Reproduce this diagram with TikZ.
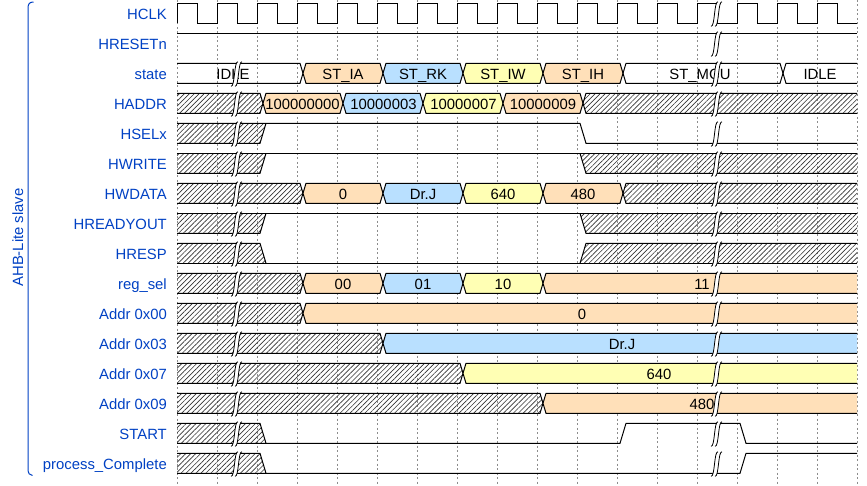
\documentclass[tikz,border=0pt]{standalone}
\usepackage{fontspec}
\setmainfont{Liberation Sans}
\usetikzlibrary{patterns.meta}
\definecolor{wdor}{HTML}{FFE0B9}
\definecolor{wdbl}{HTML}{B9E0FF}
\definecolor{wdye}{HTML}{FFFFB4}
\definecolor{wdlab}{HTML}{0041C4}
\newcommand\wdfont{\fontsize{14.85bp}{17bp}\selectfont}
\tikzset{
 wl/.style={line width=1bp, draw=black},
 xpat/.style={pattern={Lines[angle=45,distance=3.5bp,line width=0.65bp]}, pattern color=black!80},
 gridl/.style={draw=black!45, line width=0.6bp, dash pattern=on 2bp off 2.5bp},
 gapl/.style={line width=0.8bp, draw=black},
 lab/.style={anchor=base east, inner sep=0, text=wdlab, font=\wdfont},
 dtx/.style={anchor=base, inner sep=0, font=\wdfont},
}
% data box with crossings on both sides
\newcommand\wdB[3]{\path[wl,fill=#3] ({#1+6},10) -- ({#1+9},0) -- ({#2+3},0) -- ({#2+6},10) -- ({#2+3},20) -- ({#1+9},20) -- cycle;}
% data box starting at the left edge
\newcommand\wdS[3]{\path[fill=#3] (#1,0) -- ({#2+3},0) -- ({#2+6},10) -- ({#2+3},20) -- (#1,20) -- cycle;
 \draw[wl] (#1,0) -- ({#2+3},0) -- ({#2+6},10) -- ({#2+3},20) -- (#1,20);}
% data box ending at the right edge
\newcommand\wdE[3]{\path[fill=#3] ({#1+6},10) -- ({#1+9},0) -- (#2,0) -- (#2,20) -- ({#1+9},20) -- cycle;
 \draw[wl] (#2,0) -- ({#1+9},0) -- ({#1+6},10) -- ({#1+9},20) -- (#2,20);}
% undefined region from the left edge up to a data crossing
\newcommand\wdXS[1]{\path[xpat] (177,0) -- ({#1+3},0) -- ({#1+6},10) -- ({#1+3},20) -- (177,20) -- cycle;
 \draw[wl] (177,0) -- ({#1+3},0) -- ({#1+6},10) -- ({#1+3},20) -- (177,20);}
% undefined region from a data crossing to the right edge
\newcommand\wdXE[1]{\path[xpat] ({#1+6},10) -- ({#1+9},0) -- (857,0) -- (857,20) -- ({#1+9},20) -- cycle;
 \draw[wl] (857,0) -- ({#1+9},0) -- ({#1+6},10) -- ({#1+9},20) -- (857,20);}
% gap mark
\newcommand\wdGap[1]{\fill[white] ({#1-6},23) .. controls ({#1-2},24) and ({#1-3},-2.5) .. ({#1+1},-1.5) -- ({#1+5},-1.5) .. controls ({#1+1},-2.5) and ({#1+2},24) .. ({#1-2},23) -- cycle;
 \draw[gapl] ({#1-6},23) .. controls ({#1-2},24) and ({#1-3},-2.5) .. ({#1+1},-1.5);
 \draw[gapl] ({#1-2},23) .. controls ({#1+2},24) and ({#1+1},-2.5) .. ({#1+5},-1.5);}
\begin{document}
\begin{tikzpicture}[x=1bp,y=-1bp]
\fill[white] (0,0) rectangle (867,486);
\useasboundingbox (0,0) rectangle (867,486);
\foreach \k in {0,...,17} \draw[gridl] ({177+40*\k},0) -- ({177+40*\k},484);
% group bracket
\draw[wdlab, line width=1bp] (33.5,2) .. controls (29.5,2) and (28,4) .. (28,8) -- (28,469) .. controls (28,473) and (29.5,475.5) .. (32.5,475.5);
\node[rotate=90, anchor=base, inner sep=0, text=wdlab, font=\wdfont] (grp) at (23,237.5) {AHB-Lite slave};
% lane 0 HCLK
\begin{scope}[shift={(0,3.3)}]
\node[lab] (l0) at (167,15.8) {HCLK};
\draw[wl] (177,20) \foreach \k in {0,...,16} { -- ({177+40*\k},0) -- ({197+40*\k},0) -- ({197+40*\k},20) -- ({217+40*\k},20) };
\wdGap{717}
\end{scope}
% lane 1 HRESETn
\begin{scope}[shift={(0,33.3)}]
\node[lab] (l1) at (167,15.8) {HRESETn};
\draw[wl] (177,0) -- (857,0);
\wdGap{717}
\end{scope}
% lane 2 state
\begin{scope}[shift={(0,63.3)}]
\node[lab] (l2) at (167,15.8) {state};
\wdS{177}{297}{none}
\wdB{297}{377}{wdor}
\wdB{377}{457}{wdbl}
\wdB{457}{537}{wdye}
\wdB{537}{617}{wdor}
\wdB{617}{777}{none}
\wdE{777}{857}{none}
\node[dtx] (s1) at (233,15.8) {IDLE};
\node[dtx] (s2) at (343,15.8) {ST\_IA};
\node[dtx] (s3) at (423,15.8) {ST\_RK};
\node[dtx] (s4) at (503,15.8) {ST\_IW};
\node[dtx] (s5) at (583,15.8) {ST\_IH};
\node[dtx] (s6) at (700,15.8) {ST\_MCU};
\node[dtx] (s7) at (820,15.8) {IDLE};
\wdGap{237}\wdGap{717}
\end{scope}
% lane 3 HADDR
\begin{scope}[shift={(0,93.3)}]
\node[lab] (l3) at (167,15.8) {HADDR};
\wdXS{257}
\wdB{257}{337}{wdor}
\wdB{337}{417}{wdbl}
\wdB{417}{497}{wdye}
\wdB{497}{577}{wdor}
\wdXE{577}
\node[dtx] (a1) at (302.5,15.8) {100000000};
\node[dtx] (a2) at (383.5,15.8) {10000003};
\node[dtx] (a3) at (463.5,15.8) {10000007};
\node[dtx] (a4) at (543,15.8) {10000009};
\wdGap{237}\wdGap{717}
\end{scope}
% lane 4 HSELx
\begin{scope}[shift={(0,123.3)}]
\node[lab] (l4) at (167,15.8) {HSELx};
\path[xpat] (177,0) -- (266,0) -- (260,20) -- (177,20) -- cycle;
\draw[wl] (177,0) -- (580,0) -- (586,20) -- (857,20);
\draw[wl] (177,20) -- (260,20) -- (266,0);
\wdGap{237}\wdGap{717}
\end{scope}
% lane 5 HWRITE
\begin{scope}[shift={(0,153.3)}]
\node[lab] (l5) at (167,15.8) {HWRITE};
\path[xpat] (177,0) -- (266,0) -- (260,20) -- (177,20) -- cycle;
\path[xpat] (580,0) -- (857,0) -- (857,20) -- (586,20) -- cycle;
\draw[wl] (177,0) -- (857,0);
\draw[wl] (177,20) -- (260,20) -- (266,0);
\draw[wl] (580,0) -- (586,20) -- (857,20);
\wdGap{237}\wdGap{717}
\end{scope}
% lane 6 HWDATA
\begin{scope}[shift={(0,183.3)}]
\node[lab] (l6) at (167,15.8) {HWDATA};
\wdXS{297}
\wdB{297}{377}{wdor}
\wdB{377}{457}{wdbl}
\wdB{457}{537}{wdye}
\wdB{537}{617}{wdor}
\wdXE{617}
\node[dtx] (d1) at (343,15.8) {0};
\node[dtx] (d2) at (423,15.8) {Dr.J};
\node[dtx] (d3) at (503,15.8) {640};
\node[dtx] (d4) at (583,15.8) {480};
\wdGap{237}\wdGap{717}
\end{scope}
% lane 7 HREADYOUT
\begin{scope}[shift={(0,213.3)}]
\node[lab] (l7) at (167,15.8) {HREADYOUT};
\path[xpat] (177,0) -- (266,0) -- (260,20) -- (177,20) -- cycle;
\path[xpat] (580,0) -- (857,0) -- (857,20) -- (586,20) -- cycle;
\draw[wl] (177,0) -- (857,0);
\draw[wl] (177,20) -- (260,20) -- (266,0);
\draw[wl] (580,0) -- (586,20) -- (857,20);
\wdGap{237}\wdGap{717}
\end{scope}
% lane 8 HRESP
\begin{scope}[shift={(0,243.3)}]
\node[lab] (l8) at (167,15.8) {HRESP};
\path[xpat] (177,0) -- (260,0) -- (266,20) -- (177,20) -- cycle;
\path[xpat] (586,0) -- (857,0) -- (857,20) -- (580,20) -- cycle;
\draw[wl] (177,20) -- (857,20);
\draw[wl] (177,0) -- (260,0) -- (266,20);
\draw[wl] (580,20) -- (586,0) -- (857,0);
\wdGap{237}\wdGap{717}
\end{scope}
% lane 9 reg_sel
\begin{scope}[shift={(0,273.3)}]
\node[lab] (l9) at (167,15.8) {reg\_sel};
\wdXS{297}
\wdB{297}{377}{wdor}
\wdB{377}{457}{wdbl}
\wdB{457}{537}{wdye}
\wdE{537}{857}{wdor}
\node[dtx] (r1) at (343,15.8) {00};
\node[dtx] (r2) at (423,15.8) {01};
\node[dtx] (r3) at (503,15.8) {10};
\node[dtx] (r4) at (702,15.8) {11};
\wdGap{237}\wdGap{717}
\end{scope}
% lane 10 Addr 0x00
\begin{scope}[shift={(0,303.3)}]
\node[lab] (l10) at (167,15.8) {Addr 0x00};
\wdXS{297}
\wdE{297}{857}{wdor}
\node[dtx] (m0) at (582,15.8) {0};
\wdGap{237}\wdGap{717}
\end{scope}
% lane 11 Addr 0x03
\begin{scope}[shift={(0,333.3)}]
\node[lab] (l11) at (167,15.8) {Addr 0x03};
\wdXS{377}
\wdE{377}{857}{wdbl}
\node[dtx] (m3) at (622,15.8) {Dr.J};
\wdGap{237}\wdGap{717}
\end{scope}
% lane 12 Addr 0x07
\begin{scope}[shift={(0,363.3)}]
\node[lab] (l12) at (167,15.8) {Addr 0x07};
\wdXS{457}
\wdE{457}{857}{wdye}
\node[dtx] (m7) at (659,15.8) {640};
\wdGap{237}\wdGap{717}
\end{scope}
% lane 13 Addr 0x09
\begin{scope}[shift={(0,393.3)}]
\node[lab] (l13) at (167,15.8) {Addr 0x09};
\wdXS{537}
\wdE{537}{857}{wdor}
\node[dtx] (m9) at (702,15.8) {480};
\wdGap{237}\wdGap{717}
\end{scope}
% lane 14 START
\begin{scope}[shift={(0,423.3)}]
\node[lab] (l14) at (167,15.8) {START};
\path[xpat] (177,0) -- (260,0) -- (266,20) -- (177,20) -- cycle;
\draw[wl] (177,0) -- (260,0) -- (266,20);
\draw[wl] (177,20) -- (620,20) -- (626,0) -- (740,0) -- (746,20) -- (857,20);
\wdGap{237}\wdGap{717}
\end{scope}
% lane 15 process_Complete
\begin{scope}[shift={(0,453.3)}]
\node[lab] (l15) at (167,15.8) {process\_Complete};
\path[xpat] (177,0) -- (260,0) -- (266,20) -- (177,20) -- cycle;
\draw[wl] (177,0) -- (260,0) -- (266,20);
\draw[wl] (177,20) -- (740,20) -- (746,0) -- (857,0);
\wdGap{237}\wdGap{717}
\end{scope}
\end{tikzpicture}
\end{document}
